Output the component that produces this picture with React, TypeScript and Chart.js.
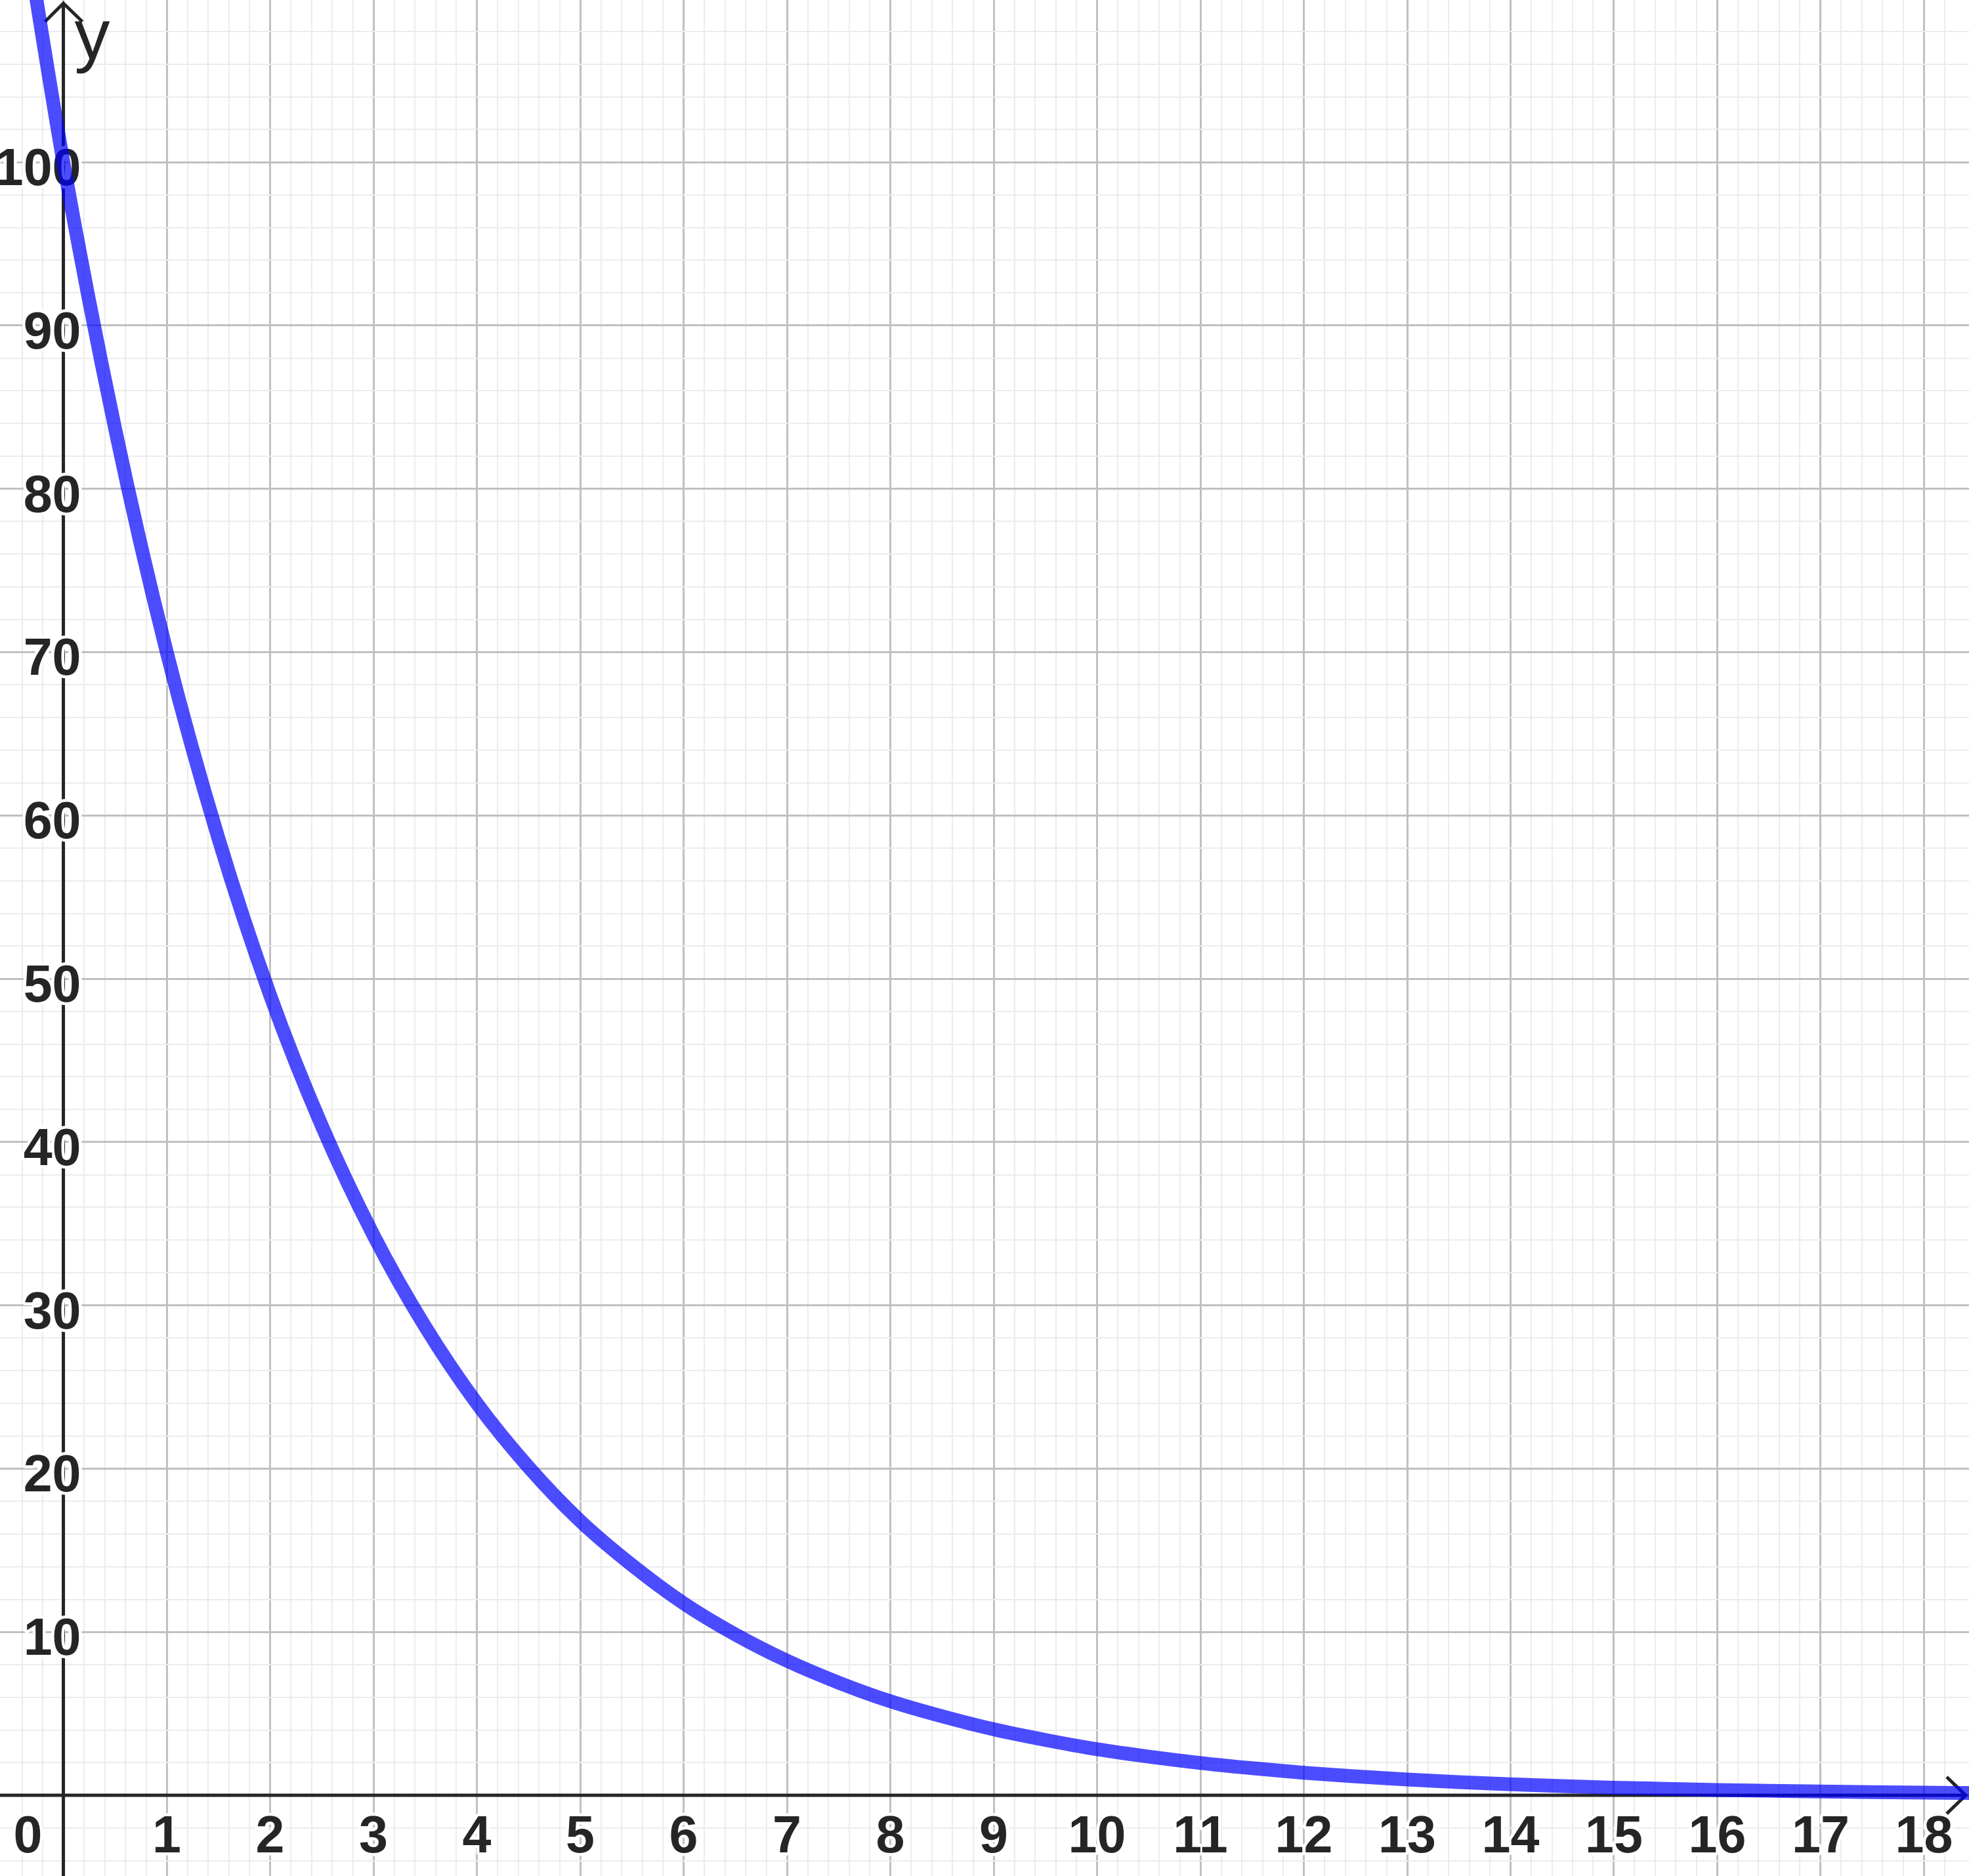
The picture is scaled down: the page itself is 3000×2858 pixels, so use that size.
import React, { useEffect, useRef } from "react";
import { Chart, registerables } from "chart.js";

Chart.register(...registerables);

// Curve samples
const curveX = [-0.5, 0, 0.5, 1, 1.5, 2, 2.5, 3, 3.5, 4, 4.5, 5, 5.5, 6, 6.5, 7, 7.5, 8, 8.5, 9, 9.5, 10, 10.5, 11, 11.5, 12, 12.5, 13, 13.5, 14, 14.5, 15, 15.5, 16, 16.5, 17, 17.5, 18, 18.5];
const curveY = [119.5, 100, 83.7, 70.0, 58.6, 49.0, 41.0, 34.3, 28.7, 24.0, 20.1, 16.8, 14.1, 11.76, 9.85, 8.24, 6.9, 5.76, 4.84, 4.04, 3.39, 2.82, 2.37, 1.98, 1.66, 1.38, 1.16, 0.97, 0.81, 0.68, 0.57, 0.47, 0.4, 0.33, 0.28, 0.23, 0.19, 0.16, 0.14];

// Tick labels
const xTickValues = [1, 2, 3, 4, 5, 6, 7, 8, 9, 10, 11, 12, 13, 14, 15, 16, 17, 18];
const xTickLabels = ["1", "2", "3", "4", "5", "6", "7", "8", "9", "10", "11", "12", "13", "14", "15", "16", "17", "18"];
const yTickValues = [10, 20, 30, 40, 50, 60, 70, 80, 90, 100];
const yTickLabels = ["10", "20", "30", "40", "50", "60", "70", "80", "90", "100"];
const originLabel = "0";
const yAxisLabel = "y";

const X_MIN = -0.613;
const X_MAX = 18.435;
const Y_MIN = -4.94;
const Y_MAX = 109.93;

const MAJOR = "rgb(192,192,192)";
const MINOR = "rgb(236,236,236)";
const INK = "#252525";

const near = (v: number, step: number) => Math.abs(v / step - Math.round(v / step)) < 1e-6;

const gridFor = (major: number, minor: number) => ({
  drawTicks: false,
  color: (c: any) => {
    const v = c.tick ? c.tick.value : NaN;
    if (near(v, major)) return MAJOR;
    if (near(v, minor)) return MINOR;
    return "rgba(0,0,0,0)";
  },
  lineWidth: (c: any) => {
    const v = c.tick ? c.tick.value : NaN;
    return near(v, major) ? 3 : 2;
  },
});

const axesPlugin = {
  id: "geoAxes",
  beforeDatasetsDraw(chart: any) {
    const { ctx, chartArea, scales } = chart;
    const xs = scales.x;
    const ys = scales.y;
    const ox = xs.getPixelForValue(0);
    const oy = ys.getPixelForValue(0);
    ctx.save();
    ctx.strokeStyle = INK;
    ctx.lineWidth = 5;
    ctx.lineCap = "butt";
    ctx.lineJoin = "miter";
    // y axis
    ctx.beginPath();
    ctx.moveTo(ox, chartArea.bottom);
    ctx.lineTo(ox, chartArea.top + 6);
    ctx.stroke();
    ctx.beginPath();
    ctx.moveTo(ox - 28, chartArea.top + 33);
    ctx.lineTo(ox, chartArea.top + 5);
    ctx.lineTo(ox + 29, chartArea.top + 33);
    ctx.stroke();
    // x axis
    ctx.beginPath();
    ctx.moveTo(chartArea.left, oy);
    ctx.lineTo(chartArea.right - 6, oy);
    ctx.stroke();
    ctx.beginPath();
    ctx.moveTo(chartArea.right - 34, oy - 28);
    ctx.lineTo(chartArea.right - 5, oy);
    ctx.lineTo(chartArea.right - 34, oy + 28);
    ctx.stroke();

    // tick labels
    ctx.font = 'bold 79px "Liberation Sans", Arial, sans-serif';
    ctx.lineJoin = "round";
    ctx.strokeStyle = "#ffffff";
    ctx.lineWidth = 9;
    ctx.fillStyle = INK;
    ctx.textBaseline = "alphabetic";
    ctx.textAlign = "center";
    xTickValues.forEach((v, i) => {
      const px = xs.getPixelForValue(v);
      ctx.strokeText(xTickLabels[i], px, oy + 87);
      ctx.fillText(xTickLabels[i], px, oy + 87);
    });
    ctx.textAlign = "right";
    ctx.strokeText(originLabel, ox - 32, oy + 87);
    ctx.fillText(originLabel, ox - 32, oy + 87);
    yTickValues.forEach((v, i) => {
      const py = ys.getPixelForValue(v);
      ctx.strokeText(yTickLabels[i], ox + 27, py + 35);
      ctx.fillText(yTickLabels[i], ox + 27, py + 35);
    });

    // axis name
    ctx.font = '108px "Liberation Sans", Arial, sans-serif';
    ctx.textAlign = "left";
    ctx.fillStyle = INK;
    ctx.fillText(yAxisLabel, ox + 17, chartArea.top + 90);
    ctx.restore();
  },
};

export default function App() {
  const ref = useRef<HTMLCanvasElement | null>(null);
  useEffect(() => {
    if (!ref.current) return;
    const chart = new Chart(ref.current, {
      type: "line",
      data: {
        datasets: [
          {
            data: curveX.map((x, i) => ({ x, y: curveY[i] })),
            borderColor: "rgba(0,0,255,0.7)",
            borderWidth: 21,
            pointRadius: 0,
            fill: false,
            cubicInterpolationMode: "monotone",
          },
        ],
      },
      options: {
        animation: false,
        responsive: true,
        maintainAspectRatio: false,
        devicePixelRatio: 1,
        layout: { padding: 0 },
        plugins: { legend: { display: false }, tooltip: { enabled: false } },
        events: [],
        scales: {
          x: {
            type: "linear",
            min: X_MIN,
            max: X_MAX,
            ticks: { display: false, stepSize: 0.2 },
            border: { display: false },
            grid: gridFor(1, 0.2),
          },
          y: {
            type: "linear",
            min: Y_MIN,
            max: Y_MAX,
            ticks: { display: false, stepSize: 2 },
            border: { display: false },
            grid: gridFor(10, 2),
          },
        },
      } as any,
      plugins: [axesPlugin],
    });
    return () => chart.destroy();
  }, []);
  return (
    <div style={{ position: "absolute", left: 0, top: 0, width: 3000, height: 2858, background: "#fff" }}>
      <canvas ref={ref} />
    </div>
  );
}
